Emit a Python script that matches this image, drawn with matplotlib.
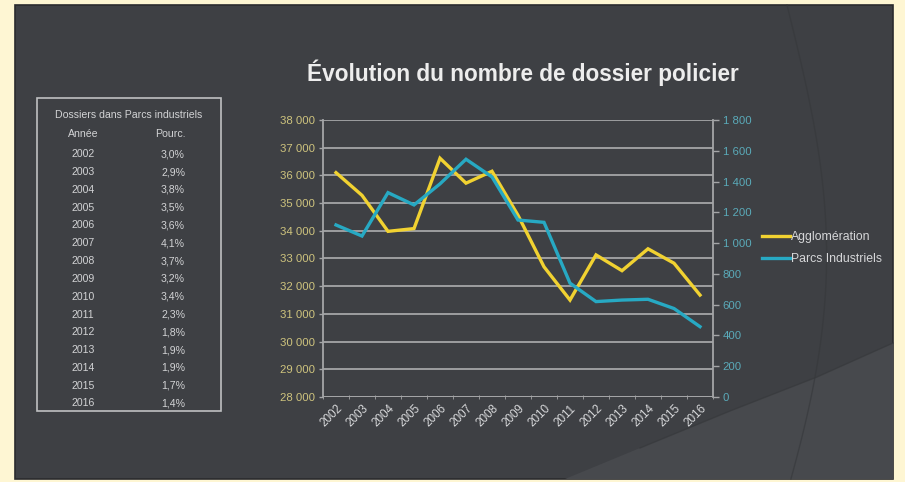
import matplotlib
matplotlib.use("Agg")
import matplotlib.pyplot as plt
from matplotlib.patches import Rectangle, Polygon
from matplotlib.ticker import FuncFormatter, FixedLocator
import numpy as np

plt.rcParams['font.family'] = ['Liberation Sans', 'DejaVu Sans']

# ---- data ----
years = ['2002', '2003', '2004', '2005', '2006', '2007', '2008', '2009',
         '2010', '2011', '2012', '2013', '2014', '2015', '2016']
agglomeration = [36100, 35280, 33980, 34080, 36620, 35720, 36150, 34560,
                 32700, 31500, 33130, 32560, 33350, 32830, 31680]
parcs_industriels = [1118, 1046, 1328, 1248, 1385, 1545, 1430, 1150,
                     1135, 740, 620, 630, 635, 575, 457]
pourc = ['3,0%', '2,9%', '3,8%', '3,5%', '3,6%', '4,1%', '3,7%', '3,2%',
         '3,4%', '2,3%', '1,8%', '1,9%', '1,9%', '1,7%', '1,4%']
left_ticks = list(range(28000, 38001, 1000))
right_ticks = list(range(0, 1801, 200))
title = "Évolution du nombre de dossier policier"
table_title = "Dossiers dans Parcs industriels"
series_names = ["Agglomération", "Parcs Industriels"]

W, H = 905, 482
fig = plt.figure(figsize=(W / 100, H / 100), dpi=100)
fig.patch.set_facecolor('#FEF6D3')

# background axes in pixel coordinates
bg = fig.add_axes([0, 0, 1, 1])
bg.set_xlim(0, W)
bg.set_ylim(H, 0)
bg.axis('off')
bg.add_patch(Rectangle((15, 4.5), 878, 474.5, facecolor='#3E4044',
                       edgecolor='#2A2B2E', linewidth=1.2))
# lighter decorative region bottom right
curve = [(565, 479), (640, 448), (730, 411), (817, 377), (893, 343), (893, 479)]
bg.add_patch(Polygon(curve, closed=True, facecolor='#47494D', edgecolor='none'))
# decorative arcs
t = np.linspace(0, 1, 60)
ax_x = 787 + 45 * np.sin(np.pi * t * 0.9) - 10 * t
ax_y = 5 + 474 * t
bg.plot(ax_x, ax_y, color='#36383B', lw=1.0, alpha=0.6)
bg.plot([640, 730, 817, 893], [448, 411, 377, 343], color='#37393C', lw=1.0, alpha=0.7)

# title
bg.text(523, 73, title, color='#EDEDED', fontsize=16.3, fontweight='bold',
        ha='center', va='center')

# table
bg.add_patch(Rectangle((37, 97.5), 183.5, 313.5, facecolor='none',
                       edgecolor='#BFC0C2', linewidth=1.2))
tcol = '#D2D3D5'
tfs = 7.6
bg.text(129, 115, table_title, color=tcol, fontsize=tfs, ha='center', va='center')
bg.text(83, 134, "Année", color=tcol, fontsize=tfs, ha='center', va='center')
bg.text(170, 134, "Pourc.", color=tcol, fontsize=tfs, ha='center', va='center')
for i, (y, p) in enumerate(zip(years, pourc)):
    yy = 154.3 + i * 17.8
    bg.text(83, yy, y, color=tcol, fontsize=tfs, ha='center', va='center')
    bg.text(173, yy, p, color=tcol, fontsize=tfs, ha='center', va='center')

# chart
L, R, T, B = 323, 713, 120, 397
ax = fig.add_axes([L / W, 1 - B / H, (R - L) / W, (B - T) / H])
ax.set_facecolor('none')
x = np.arange(len(years))
yellow = '#F1D231'
teal = '#27A9C3'
grid_c = '#A4A5A7'

ax.plot(x, agglomeration, color=yellow, lw=2.4, solid_joinstyle='miter', zorder=3,
        label=series_names[0])
ax.set_xlim(-0.5, len(years) - 0.5)
ax.set_ylim(28000, 38000)
ax.set_yticks(left_ticks)
ax.yaxis.set_major_formatter(FuncFormatter(lambda v, p: f"{int(v):,}".replace(",", " ")))
ax.grid(axis='y', color=grid_c, lw=1.3)
ax.set_axisbelow(True)
for s in ['top', 'right', 'bottom']:
    ax.spines[s].set_visible(False)
ax.spines['left'].set_color(grid_c)
ax.spines['left'].set_linewidth(1.3)
ax.tick_params(axis='y', colors=grid_c, labelcolor='#CFC47E', labelsize=8.2,
               length=3, width=1, pad=3)
ax.set_xticks(x)
ax.set_xticklabels(years, rotation=45, ha='right', rotation_mode='anchor',
                   color='#D6D7D9', fontsize=8.4)
ax.tick_params(axis='x', length=0, pad=4)
ax.xaxis.set_minor_locator(FixedLocator(np.arange(-0.5, len(years), 1)))
ax.tick_params(axis='x', which='minor', length=3, direction='inout', color=grid_c)

ax2 = ax.twinx()
ax2.plot(x, parcs_industriels, color=teal, lw=2.4, solid_joinstyle='miter', zorder=3,
         label=series_names[1])
ax2.set_ylim(0, 1800)
ax2.set_yticks(right_ticks)
ax2.yaxis.set_major_formatter(FuncFormatter(lambda v, p: f"{int(v):,}".replace(",", " ")))
for s in ['top', 'left', 'bottom']:
    ax2.spines[s].set_visible(False)
ax2.spines['right'].set_color(grid_c)
ax2.spines['right'].set_linewidth(1.3)
ax2.tick_params(axis='y', colors=grid_c, labelcolor='#5AAAB9', labelsize=8.2,
                length=4, width=1, pad=3)
ax.axhline(28000, color=grid_c, lw=1.3, zorder=2)

# legend
h1, l1 = ax.get_legend_handles_labels()
h2, l2 = ax2.get_legend_handles_labels()
leg = fig.legend(h1 + h2, l1 + l2, loc='center left',
                 bbox_to_anchor=(762 / W, 1 - 248 / H), frameon=False,
                 fontsize=8.8, labelcolor='#D6D7D9', handlelength=2.3,
                 handletextpad=0.1, labelspacing=0.8, borderaxespad=0,
                 borderpad=0)

fig.savefig('out.png', dpi=100, facecolor=fig.get_facecolor())
